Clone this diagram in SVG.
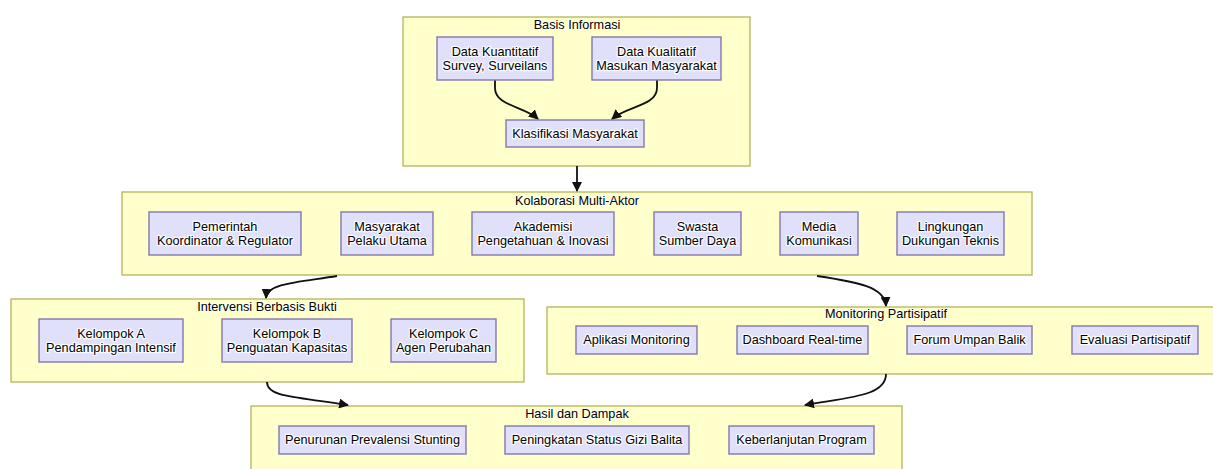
<svg xmlns="http://www.w3.org/2000/svg" width="1213" height="469" viewBox="0 0 1213 469">
<defs>
<style>
.cluster{fill:#ffffcc;stroke:#b4b45a;stroke-width:1.3}
.node{fill:#e0e0fa;stroke:#8478ac;stroke-width:1.4}
text{font-family:"Liberation Sans",Arial,sans-serif;font-size:12.7px;fill:#000;text-anchor:middle}
.nt{stroke:#ffffff;stroke-width:2.6;stroke-opacity:0.85;paint-order:stroke;stroke-linejoin:round}
.ct{stroke:#ffffee;stroke-width:2;paint-order:stroke;stroke-linejoin:round}
.edge{fill:none;stroke:#111;stroke-width:1.8}
</style>
<marker id="arrow" viewBox="0 0 10 10" refX="9" refY="5" markerWidth="10" markerHeight="10" markerUnits="userSpaceOnUse" orient="auto">
<path d="M0,0 L10,5 L0,10 z" fill="#111"/>
</marker>
</defs>
<rect width="1213" height="469" fill="#ffffff"/>

<g id="basis-informasi">
<rect class="cluster" x="403" y="17" width="347" height="149"/>
<text class="ct" x="577" y="29">Basis Informasi</text>
</g>
<g id="kolaborasi-multi-aktor">
<rect class="cluster" x="122" y="192" width="910" height="83"/>
<text class="ct" x="577" y="205">Kolaborasi Multi-Aktor</text>
</g>
<g id="intervensi-berbasis-bukti">
<rect class="cluster" x="11" y="299" width="513" height="83"/>
<text class="ct" x="267" y="311">Intervensi Berbasis Bukti</text>
</g>
<g id="monitoring-partisipatif">
<rect class="cluster" x="547" y="307" width="678" height="67"/>
<text class="ct" x="886" y="318">Monitoring Partisipatif</text>
</g>
<g id="hasil-dan-dampak">
<rect class="cluster" x="251" y="406" width="651" height="80"/>
<text class="ct" x="577" y="418">Hasil dan Dampak</text>
</g>

<g id="edges">
<path class="edge" d="M495,80 L495,88 C495,106 524,106 538,119" marker-end="url(#arrow)"/>
<path class="edge" d="M657,80 L657,88 C657,106 627,106 612,119" marker-end="url(#arrow)"/>
<path class="edge" d="M577,166 L577,191" marker-end="url(#arrow)"/>
<path class="edge" d="M337,276 C300,282 267,283 266,298" marker-end="url(#arrow)"/>
<path class="edge" d="M817,276 C858,282 885,287 886,306" marker-end="url(#arrow)"/>
<path class="edge" d="M267,382 C267,398 300,397 348,405" marker-end="url(#arrow)"/>
<path class="edge" d="M886,374 C886,396 850,397 805,405" marker-end="url(#arrow)"/>
</g>

<g id="data-kuantitatif">
<rect class="node" x="437" y="37" width="116" height="43"/>
<text class="nt" x="495" y="56">Data Kuantitatif</text>
<text class="nt" x="495" y="70">Survey, Surveilans</text>
</g>
<g id="data-kualitatif">
<rect class="node" x="592" y="37" width="129" height="43"/>
<text class="nt" x="656.5" y="56">Data Kualitatif</text>
<text class="nt" x="656.5" y="70">Masukan Masyarakat</text>
</g>
<g id="klasifikasi-masyarakat">
<rect class="node" x="506" y="120" width="138" height="27"/>
<text class="nt" x="575" y="138">Klasifikasi Masyarakat</text>
</g>

<g id="pemerintah">
<rect class="node" x="149" y="212" width="152" height="43"/>
<text class="nt" x="225" y="231">Pemerintah</text>
<text class="nt" x="225" y="245">Koordinator &amp; Regulator</text>
</g>
<g id="masyarakat">
<rect class="node" x="341" y="212" width="92" height="43"/>
<text class="nt" x="387" y="231">Masyarakat</text>
<text class="nt" x="387" y="245">Pelaku Utama</text>
</g>
<g id="akademisi">
<rect class="node" x="472" y="212" width="142" height="43"/>
<text class="nt" x="543" y="231">Akademisi</text>
<text class="nt" x="543" y="245">Pengetahuan &amp; Inovasi</text>
</g>
<g id="swasta">
<rect class="node" x="654" y="212" width="87" height="43"/>
<text class="nt" x="697.5" y="231">Swasta</text>
<text class="nt" x="697.5" y="245">Sumber Daya</text>
</g>
<g id="media">
<rect class="node" x="780" y="212" width="78" height="43"/>
<text class="nt" x="819" y="231">Media</text>
<text class="nt" x="819" y="245">Komunikasi</text>
</g>
<g id="lingkungan">
<rect class="node" x="897" y="212" width="107" height="43"/>
<text class="nt" x="950.5" y="231">Lingkungan</text>
<text class="nt" x="950.5" y="245">Dukungan Teknis</text>
</g>

<g id="kelompok-a">
<rect class="node" x="39" y="319" width="144" height="43"/>
<text class="nt" x="111" y="338">Kelompok A</text>
<text class="nt" x="111" y="352">Pendampingan Intensif</text>
</g>
<g id="kelompok-b">
<rect class="node" x="222" y="319" width="130" height="43"/>
<text class="nt" x="287" y="338">Kelompok B</text>
<text class="nt" x="287" y="352">Penguatan Kapasitas</text>
</g>
<g id="kelompok-c">
<rect class="node" x="391" y="319" width="105" height="43"/>
<text class="nt" x="443.5" y="338">Kelompok C</text>
<text class="nt" x="443.5" y="352">Agen Perubahan</text>
</g>

<g id="aplikasi-monitoring">
<rect class="node" x="576" y="326" width="121" height="28"/>
<text class="nt" x="636.5" y="344">Aplikasi Monitoring</text>
</g>
<g id="dashboard-real-time">
<rect class="node" x="737" y="326" width="131" height="28"/>
<text class="nt" x="802.5" y="344">Dashboard Real-time</text>
</g>
<g id="forum-umpan-balik">
<rect class="node" x="907" y="326" width="125" height="28"/>
<text class="nt" x="969.5" y="344">Forum Umpan Balik</text>
</g>
<g id="evaluasi-partisipatif">
<rect class="node" x="1072" y="326" width="126" height="28"/>
<text class="nt" x="1135" y="344">Evaluasi Partisipatif</text>
</g>

<g id="penurunan-prevalensi-stunting">
<rect class="node" x="279" y="426" width="187" height="28"/>
<text class="nt" x="372.5" y="444">Penurunan Prevalensi Stunting</text>
</g>
<g id="peningkatan-status-gizi-balita">
<rect class="node" x="505" y="426" width="184" height="28"/>
<text class="nt" x="597" y="444">Peningkatan Status Gizi Balita</text>
</g>
<g id="keberlanjutan-program">
<rect class="node" x="729" y="426" width="145" height="28"/>
<text class="nt" x="801.5" y="444">Keberlanjutan Program</text>
</g>
</svg>
